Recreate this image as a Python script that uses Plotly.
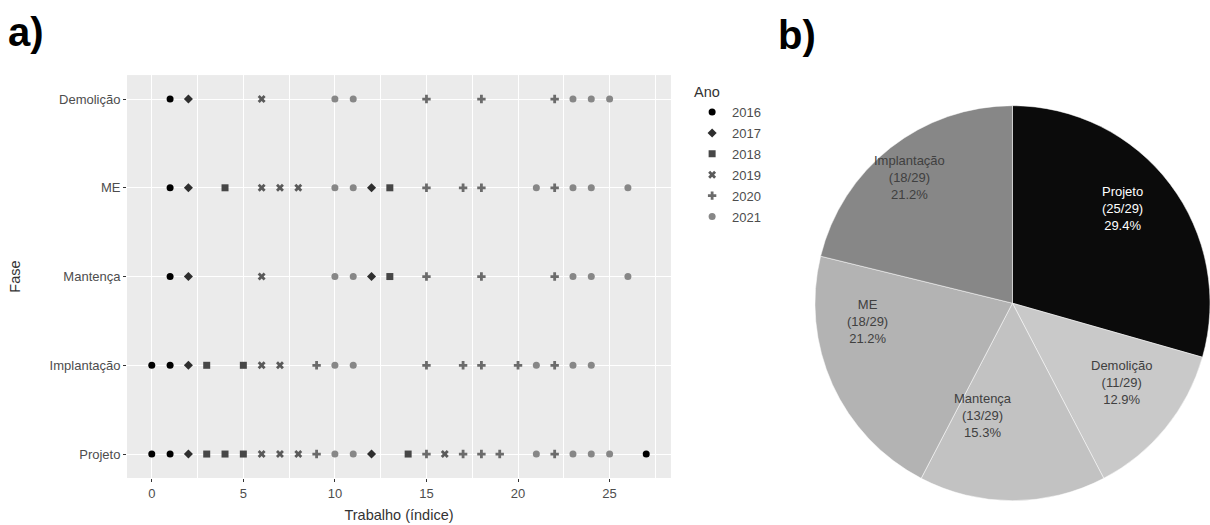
import plotly.graph_objects as go

# Year of each work, by work index 0..27
ano_trabalho = [2016, 2016, 2017, 2018, 2018, 2018, 2019, 2019, 2019, 2020,
                2021, 2021, 2017, 2018, 2018, 2020, 2019, 2020, 2020, 2020,
                2020, 2021, 2020, 2021, 2021, 2021, 2021, 2016]
n_trabalhos = 29

# Work indices present in each phase
fases = ["Projeto", "Implantação", "Mantença", "ME", "Demolição"]
idx_projeto = [0, 1, 2, 3, 4, 5, 6, 7, 8, 9, 10, 11, 12, 14, 15, 16, 17, 18, 19,
               21, 22, 23, 24, 25, 27]
idx_implantacao = [0, 1, 2, 3, 5, 6, 7, 9, 10, 11, 15, 17, 18, 20, 21, 22, 23, 24]
idx_mantenca = [1, 2, 6, 10, 11, 12, 13, 15, 18, 22, 23, 24, 26]
idx_me = [1, 2, 4, 6, 7, 8, 10, 11, 12, 13, 15, 17, 18, 21, 22, 23, 24, 26]
idx_demolicao = [1, 2, 6, 10, 11, 15, 18, 22, 23, 24, 25]
indices_por_fase = [idx_projeto, idx_implantacao, idx_mantenca, idx_me, idx_demolicao]

anos = [2016, 2017, 2018, 2019, 2020, 2021]
simbolos = ["circle", "diamond", "square", "x", "cross", "circle"]
cores_ano = ["#000000", "#2e2e2e", "#474747", "#5a5a5a", "#6b6b6b", "#878787"]

# Pie slices (clockwise from 12 o'clock)
ordem_pizza = ["Projeto", "Demolição", "Mantença", "ME", "Implantação"]
cores_pizza = ["#0b0b0b", "#c9c9c9", "#c2c2c2", "#b3b3b3", "#878787"]
cores_texto = ["#ffffff", "#404040", "#404040", "#404040", "#404040"]

FONTE = "Liberation Sans"

fig = go.Figure()

for ano, simb, cor in zip(anos, simbolos, cores_ano):
    xs, ys = [], []
    for fase, idxs in zip(fases, indices_por_fase):
        for i in idxs:
            if ano_trabalho[i] == ano:
                xs.append(i)
                ys.append(fase)
    fig.add_trace(go.Scatter(
        x=xs, y=ys, mode="markers", name=str(ano), legendgroup=str(ano),
        marker=dict(symbol=simb, color=cor, size=7, line=dict(width=0)),
        xaxis="x", yaxis="y",
    ))

contagem = {f: len(idx) for f, idx in zip(fases, indices_por_fase)}
valores_pizza = [contagem[f] for f in ordem_pizza]
total = sum(valores_pizza)

fig.add_trace(go.Pie(
    labels=ordem_pizza, values=valores_pizza, sort=False,
    direction="clockwise", rotation=0,
    marker=dict(colors=cores_pizza, line=dict(color="white", width=0.5)),
    textinfo="none",
    domain=dict(x=[0.6735, 1.0], y=[0.045, 0.800]),
    showlegend=False, hoverinfo="label+percent",
))

# Slice labels: name, count over number of works, share of all entries
pos_rotulos = {  # pixel centre of each label block
    "Projeto": (1122, 209),
    "Demolição": (1121, 382),
    "Mantença": (983, 415),
    "ME": (867, 321),
    "Implantação": (909, 177),
}
anotacoes = []
for fase, v, cor_t in zip(ordem_pizza, valores_pizza, cores_texto):
    px, py = pos_rotulos[fase]
    anotacoes.append(dict(
        text=f"{fase}<br>({v}/{n_trabalhos})<br>{100 * v / total:.1f}%",
        x=px / 1210, y=1 - py / 525, xref="paper", yref="paper",
        xanchor="center", yanchor="middle", showarrow=False, align="center",
        font=dict(size=13, color=cor_t, family=FONTE),
    ))

anotacoes += [
    dict(text="<b>a)</b>", x=6 / 1210, y=1 - 32 / 525, xref="paper", yref="paper",
         xanchor="left", yanchor="middle", showarrow=False,
         font=dict(size=40, color="#000000", family=FONTE)),
    dict(text="<b>b)</b>", x=776 / 1210, y=1 - 35 / 525, xref="paper", yref="paper",
         xanchor="left", yanchor="middle", showarrow=False,
         font=dict(size=40, color="#000000", family=FONTE)),
]

fig.update_layout(
    width=1210, height=525,
    margin=dict(l=0, r=0, t=0, b=0),
    paper_bgcolor="white", plot_bgcolor="#ebebeb",
    font=dict(family=FONTE, size=13, color="#4d4d4d"),
    xaxis=dict(
        domain=[0.105, 0.5545], range=[-1.35, 28.35],
        tickvals=[0, 5, 10, 15, 20, 25], ticks="outside", ticklen=3,
        tickcolor="#333333", tickfont=dict(size=13, color="#4d4d4d"),
        showgrid=True, gridcolor="white", gridwidth=1.1, zeroline=False,
        minor=dict(dtick=2.5, tick0=0, showgrid=True, gridcolor="white", gridwidth=0.5),
        title=dict(text="Trabalho (índice)", font=dict(size=14.5, color="#333333"), standoff=10),
        anchor="y",
    ),
    yaxis=dict(
        domain=[0.0895, 0.857], type="category",
        categoryorder="array", categoryarray=fases, range=[-0.27, 4.27],
        ticks="outside", ticklen=3, tickcolor="#333333",
        tickfont=dict(size=13, color="#4d4d4d"),
        showgrid=True, gridcolor="white", gridwidth=1.1, zeroline=False,
        title=dict(text="Fase", font=dict(size=14.5, color="#333333"), standoff=25),
        anchor="x",
    ),
    legend=dict(
        title=dict(text="Ano", font=dict(size=14.5, color="#333333")),
        x=0.572, y=0.851, xanchor="left", yanchor="top",
        font=dict(size=13, color="#4d4d4d"), tracegroupgap=1,
        bgcolor="rgba(0,0,0,0)",
    ),
    annotations=anotacoes,
)

fig.write_html("out.html")
